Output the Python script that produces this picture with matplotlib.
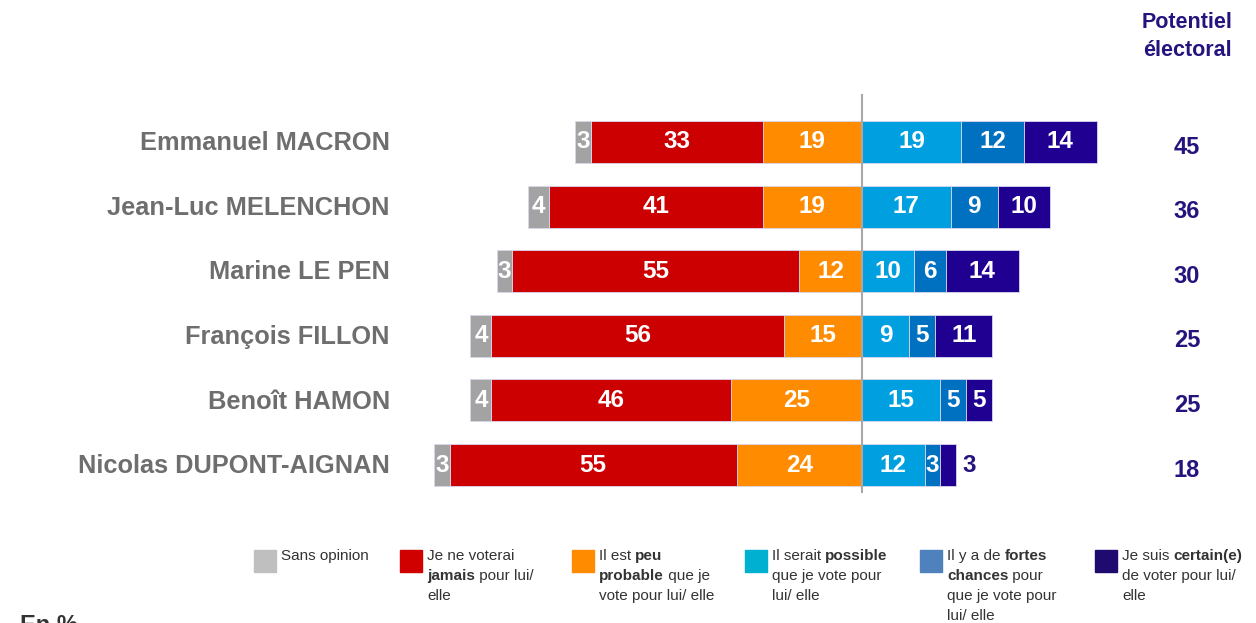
import matplotlib.pyplot as plt
from matplotlib.patches import Rectangle

# données (en %)
noms = ["Emmanuel MACRON", "Jean-Luc MELENCHON", "Marine LE PEN",
        "François FILLON", "Benoît HAMON", "Nicolas DUPONT-AIGNAN"]
sans_opinion = [3, 4, 3, 4, 4, 3]
jamais = [33, 41, 55, 56, 46, 55]
peu_probable = [19, 19, 12, 15, 25, 24]
possible = [19, 17, 10, 9, 15, 12]
fortes_chances = [12, 9, 6, 5, 5, 3]
certain = [14, 10, 14, 11, 5, 3]
potentiel = [45, 36, 30, 25, 25, 18]

legende = [
    [[("Sans opinion", False)]],
    [[("Je ne voterai", False)], [("jamais", True), (" pour lui/", False)], [("elle", False)]],
    [[("Il est ", False), ("peu", True)], [("probable", True), (" que je", False)],
     [("vote pour lui/ elle", False)]],
    [[("Il serait ", False), ("possible", True)], [("que je vote pour", False)], [("lui/ elle", False)]],
    [[("Il y a de ", False), ("fortes", True)], [("chances", True), (" pour", False)],
     [("que je vote pour", False)], [("lui/ elle", False)]],
    [[("Je suis ", False), ("certain(e)", True)], [("de voter pour lui/", False)], [("elle", False)]],
]

# couleurs
c_gris, c_rouge, c_orange = "#A3A3A3", "#CC0000", "#FF8C00"
c_ciel, c_bleu, c_marine = "#00A0E0", "#0070C0", "#1F0090"
leg_couleurs = ["#BFBFBF", "#D00000", "#FF8C00", "#00B0D0", "#4F81BD", "#1F0A70"]
c_nom = "#6E6E6E"
c_pot = "#25147E"

plt.rcParams['font.family'] = ['Liberation Sans', 'DejaVu Sans']

W, H = 1256, 623
fig = plt.figure(figsize=(W / 100, H / 100), dpi=100)
ax = fig.add_axes([0, 0, 1, 1])

X0, S = 862, 5.22      # pixel du zéro, pixels par point
Y0, DY = 142, 64.6     # centre de la première barre, pas entre barres
ax.set_xlim(-X0 / S, (W - X0) / S)
ax.set_ylim((H - Y0) / DY, -Y0 / DY)
ax.axis("off")

hb = 0.65
rows = range(len(noms))


def etiquette(x, y, v, couleur="white", ha="center"):
    ax.text(x, y, str(v), ha=ha, va="center", color=couleur,
            fontsize=17.5, fontweight="bold")


for i in rows:
    # côté gauche : du centre vers l'extérieur
    left = 0
    for vals, col in [(peu_probable, c_orange), (jamais, c_rouge), (sans_opinion, c_gris)]:
        v = vals[i]
        ax.barh(i, -v, left=left, height=hb, color=col, edgecolor="#D8D8EC", linewidth=0.6)
        etiquette(left - v / 2, i, v)
        left -= v
    # côté droit
    left = 0
    segs = [(possible, c_ciel), (fortes_chances, c_bleu), (certain, c_marine)]
    for k, (vals, col) in enumerate(segs):
        v = vals[i]
        ax.barh(i, v, left=left, height=hb, color=col, edgecolor="#D8D8EC", linewidth=0.6)
        if k == 2 and v <= 3:
            etiquette(left + v + 1.2, i, v, couleur=c_pot, ha="left")
        else:
            etiquette(left + v / 2, i, v)
        left += v

    ax.text((390 - X0) / S, i + 0.02, noms[i], ha="right", va="center", color=c_nom,
            fontsize=18.3, fontweight="bold")
    ax.text((1187 - X0) / S, i + 0.08, str(potentiel[i]), ha="center", va="center",
            color=c_pot, fontsize=17, fontweight="bold")

ax.plot([0, 0], [(95 - Y0) / DY, (492 - Y0) / DY], color="#A8A8A8", lw=1.5, zorder=5)

fig.text(1187 / W, 1 - 12 / H, "Potentiel\nélectoral", ha="center", va="top",
         color=c_pot, fontsize=15.5, fontweight="bold", linespacing=1.45)

# légende
leg_x = [254, 400, 572, 745, 920, 1095]
for x, col, lignes in zip(leg_x, leg_couleurs, legende):
    fig.patches.append(Rectangle((x / W, 1 - 572 / H), 22 / W, 22 / H, color=col,
                                 transform=fig.transFigure, figure=fig))
    for j, ligne in enumerate(lignes):
        y = 1 - (549 + 20 * j) / H
        prev = None
        for txt, gras in ligne:
            poids = "bold" if gras else "normal"
            if prev is None:
                prev = fig.text((x + 27) / W, y, txt, ha="left", va="top", fontsize=11,
                                fontweight=poids, color="#333333")
            else:
                # segment suivant accolé à droite du précédent
                prev = ax.annotate(txt, xy=(1, 0), xycoords=prev, ha="left", va="bottom",
                                   fontsize=11, fontweight=poids, color="#333333",
                                   annotation_clip=False)

fig.text(20 / W, 1 - 614 / H, "En %", ha="left", va="top", fontsize=17,
         fontweight="bold", color="#333333")

plt.savefig("out.png", dpi=100)
